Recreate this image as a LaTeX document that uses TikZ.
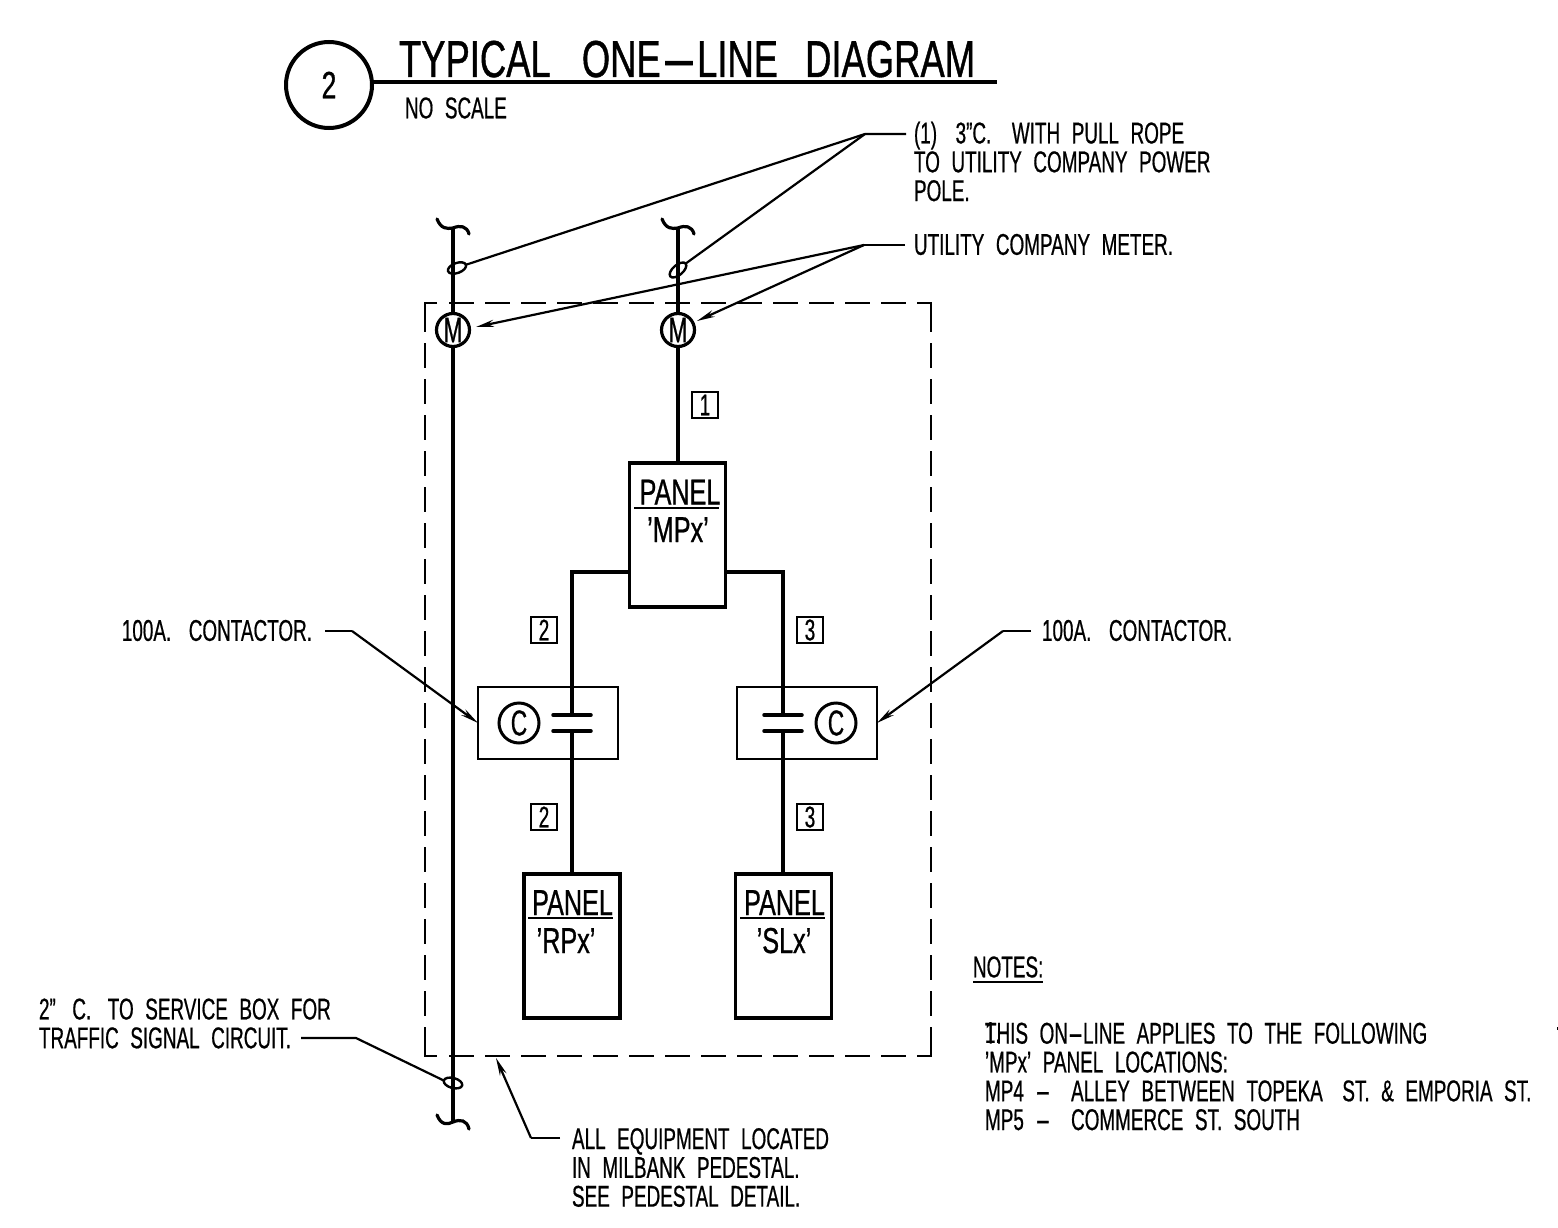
\documentclass[tikz,border=0pt]{standalone}
\usepackage{fontspec}
\usepackage{graphicx}
\usetikzlibrary{arrows.meta,shapes.geometric}
\setmainfont[FakeStretch=0.63,WordSpace=2.2,FakeBold=0.6]{Liberation Sans}
\newfontfamily\headfont[Ligatures=TeX,FakeStretch=0.70,WordSpace=1.5,FakeBold=0.8]{Liberation Sans}
\newcommand{\cadhy}{\scalebox{2.4}[1]{-}}
\newcommand{\headhy}{\scalebox{3}[1]{-}}
\tikzset{
  x=1pt,y=-1pt,
  every node/.style={inner sep=0pt,outer sep=0pt},
  lbl/.style={font=\fontsize{30}{28.8}\selectfont,align=left,anchor=west},
  title/.style={font=\headfont\fontsize{52}{52}\selectfont,anchor=base west},
  wire/.style={line width=4pt},
  lead/.style={line width=2.2pt},
  arrowlead/.style={line width=2.2pt,-{Stealth[length=18pt,width=7pt]}},
  meter/.style={circle,draw,line width=3.2pt,minimum size=33pt,fill=white,font=\fontsize{36}{36}\selectfont},
  coil/.style={circle,draw,line width=3pt,minimum size=40pt,font=\fontsize{36}{36}\selectfont},
  tag/.style={rectangle,draw,line width=2pt,minimum size=26pt,font=\fontsize{30}{30}\selectfont},
  panel/.style={rectangle,draw,line width=3.5pt,minimum width=96pt,minimum height=144pt},
  contbox/.style={rectangle,draw,line width=2pt,minimum width=140pt,minimum height=72pt},
  plate/.style={line width=3.5pt,line cap=round},
  oval/.style={line width=2.4pt},
  panelname/.style={font=\headfont\fontsize{36}{36}\selectfont,anchor=base},
  squig/.style={line width=3.2pt,line cap=round},
  enclsolid/.style={line width=2.6pt},
  encldash/.style={line width=2.6pt,dash pattern=on 25pt off 11pt},
}
\begin{document}
\begin{tikzpicture}
\useasboundingbox (0,0) rectangle (1558,1228);
% title
\node[circle,draw,line width=4pt,minimum size=86pt,font=\headfont\fontsize{38}{38}\selectfont] (tc) at (329,85) {2};
\node[title] (tt) at (399,77) {TYPICAL\hspace{16pt} ONE\headhy LINE\hspace{12pt} DIAGRAM};
\coordinate (tl1) at (373,82);
\coordinate (tl2) at (997,82);
\draw[line width=3.5pt] (tl1) -- (tl2);
\node[lbl] (ns) at (405,108) {NO SCALE};
% dashed enclosure
\draw[enclsolid] (437,303) -- (425,303) -- (425,332);
\draw[enclsolid] (917,303) -- (931,303) -- (931,332);
\draw[enclsolid] (425,1027) -- (425,1056) -- (437,1056);
\draw[enclsolid] (931,1027) -- (931,1056) -- (917,1056);
\draw[encldash] (449,303) -- (906,303);
\draw[encldash] (449,1056) -- (906,1056);
\draw[encldash] (425,343) -- (425,1016);
\draw[encldash] (931,343) -- (931,1016);
% buses
\coordinate (bl1) at (453,228);
\coordinate (bl2) at (453,1122);
\coordinate (br1) at (678,228);
\draw[wire] (bl1) -- (bl2);
\draw[squig] (437,219) .. controls (441,229) and (447,229) .. (bl1) .. controls (460,225) and (467,226) .. (469,234);
\draw[squig] (662,219) .. controls (666,229) and (672,229) .. (br1) .. controls (685,225) and (692,226) .. (694,234);
\draw[squig] (437,1115) .. controls (441,1125) and (447,1125) .. (bl2) .. controls (460,1119) and (467,1120) .. (469,1129);
\node[meter] (m1) at (453,330) {M};
\node[meter] (m2) at (678,330) {M};
% panels
\node[panel] (mp) at (677.5,535) {};
\node[panel] (rp) at (572,946) {};
\node[panel] (sl) at (783.5,946) {};
\node[panelname] (mpa) at (680,504.5) {PANEL};
\node[panelname] (mpb) at (678,542) {'MPx'};
\draw[line width=2.2pt] (634,508) -- (719,508);
\node[panelname] (rpa) at (572.5,915) {PANEL};
\node[panelname] (rpb) at (566,953) {'RPx'};
\draw[line width=2.2pt] (528,918) -- (613,918);
\node[panelname] (sla) at (784.5,915) {PANEL};
\node[panelname] (slb) at (784,953) {'SLx'};
\draw[line width=2.2pt] (740,918) -- (825,918);
% wires
\draw[wire] (m2) -- (mp.north -| m2);
\draw[wire] (br1) -- (m2);
\coordinate (lj) at (572,572);
\coordinate (rj) at (783,572);
\coordinate (lp1) at (572,715);
\coordinate (lp2) at (572,731);
\coordinate (rp1) at (783,715);
\coordinate (rp2) at (783,731);
\node[contbox] (cl) at (548,723) {};
\node[contbox] (cr) at (807,723) {};
\draw[wire] (mp.west |- lj) -- (lj) -- (lp1);
\draw[wire] (mp.east |- rj) -- (rj) -- (rp1);
\draw[wire] (lp2) -- (rp.north -| lp2);
\draw[wire] (rp2) -- (sl.north -| rp2);
\draw[plate] (553,715) -- (591,715);
\draw[plate] (553,731) -- (591,731);
\draw[plate] (764,715) -- (802,715);
\draw[plate] (764,731) -- (802,731);
\node[coil] (cc1) at (519,723) {C};
\node[coil] (cc2) at (836,723) {C};
% tags
\node[tag] (t1) at (705,405) {1};
\node[tag] (t2) at (544,630) {2};
\node[tag] (t3) at (810,630) {3};
\node[tag] (t4) at (544,817) {2};
\node[tag] (t5) at (810,817) {3};
% ovals
\node[draw,oval,ellipse,minimum width=19pt,minimum height=10pt,rotate=20] (ov1) at (457,268) {};
\node[draw,oval,ellipse,minimum width=20pt,minimum height=10pt,rotate=40] (ov2) at (678,270) {};
\node[draw,oval,ellipse,minimum width=19pt,minimum height=10pt,rotate=-15] (ov3) at (453,1083) {};
% labels & leaders
\node[lbl] (n1) at (914,161.5) {(1)\hspace{7pt} 3"C.\hspace{9pt} WITH PULL ROPE\\TO UTILITY COMPANY POWER\\POLE.};
\coordinate (k1) at (865,134);
\draw[lead] (906,134) -- (k1) -- (ov1.east);
\draw[lead] (k1) -- (ov2.east);
\node[lbl] (n2) at (914,244.5) {UTILITY COMPANY METER.};
\coordinate (k2) at (864,245);
\draw[lead] (905,245) -- (k2);
\draw[arrowlead] (k2) -- (476,327);
\draw[arrowlead] (k2) -- (697,321);
\node[lbl,anchor=east] (n3) at (312,630.5) {100A.\hspace{6pt} CONTACTOR.};
\draw[lead] (325,631) -- (352,631);
\draw[arrowlead] (352,631) -- (cl.west);
\node[lbl] (n4) at (1042,630.5) {100A.\hspace{6pt} CONTACTOR.};
\draw[lead] (1031,631) -- (1003,631);
\draw[arrowlead] (1003,631) -- (cr.east);
\node[lbl] (n5) at (39,1023.5) {2"\hspace{5pt} C.\hspace{5pt} TO SERVICE BOX FOR\\TRAFFIC SIGNAL CIRCUIT.};
\draw[lead] (301,1038) -- (356,1038) -- (ov3.west);
\node[lbl] (n6) at (572,1167.5) {ALL EQUIPMENT LOCATED\\IN MILBANK PEDESTAL.\\SEE PEDESTAL DETAIL.};
\draw[lead] (560,1138) -- (531,1138);
\draw[arrowlead] (531,1138) -- (496,1058);
% notes
\node[lbl] (nt) at (973,967) {NOTES:};
\draw[line width=2pt] (973,982) -- (1043,982);
\node[lbl] (nn) at (985,1032.5) {1.};
\node[lbl] (nb) at (985,1076.5) {THIS ON\cadhy LINE APPLIES TO THE FOLLOWING\\'MPx' PANEL LOCATIONS:\\MP4 \cadhy\hspace{9pt} ALLEY BETWEEN TOPEKA\hspace{8pt} ST. \& EMPORIA ST.\\MP5 \cadhy\hspace{9pt} COMMERCE ST. SOUTH};
\fill (1556.8,1027) rectangle (1558,1030);
\end{tikzpicture}
\end{document}
